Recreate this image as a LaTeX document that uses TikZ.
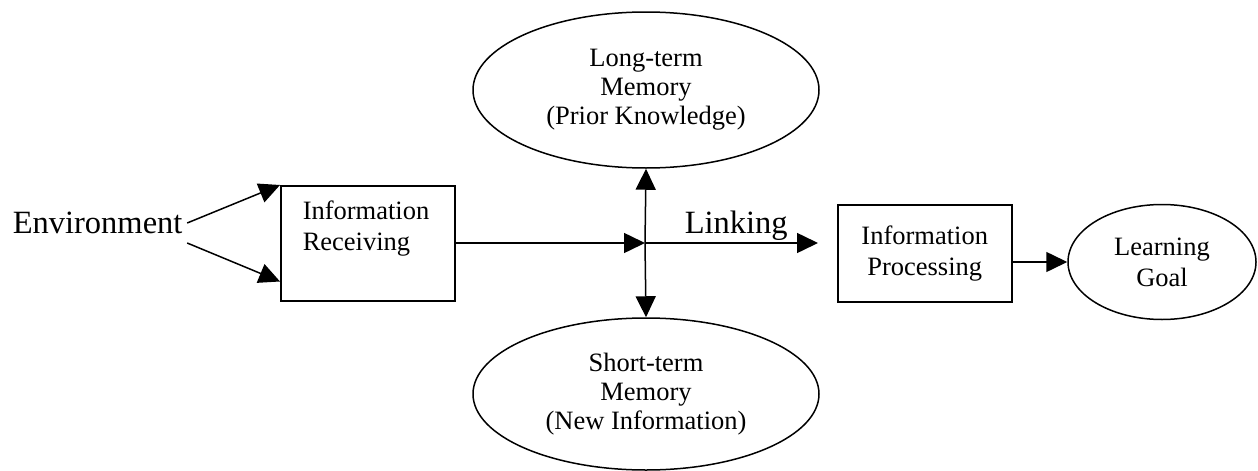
\documentclass[tikz,border=0pt]{standalone}
\usepackage{fontspec}
\setmainfont{Liberation Serif}
\usetikzlibrary{arrows.meta,shapes.geometric,calc}
\begin{document}
\begin{tikzpicture}[x=1pt,y=-1pt, line width=1.5pt,
  arr/.style={-{Triangle[length=21pt,width=20pt]}},
  box/.style={draw, rectangle, inner sep=0pt, line width=1.5pt},
  ell/.style={draw, ellipse, inner sep=0pt, align=center, line width=1.5pt, font=\fontsize{26.5}{29}\selectfont},
  big/.style={font=\fontsize{32.5}{38}\selectfont, inner sep=0pt},
  small/.style={font=\fontsize{26.5}{31}\selectfont, align=center, inner sep=0pt}]
\useasboundingbox (0,0) rectangle (1258,471);

\node[big, anchor=west] (env) at (12,223) {Environment};
\node[box, minimum width=174pt, minimum height=115pt, anchor=north west] (rec) at (280,185) {};
\node[small, align=left, anchor=north west] (rectext) at (302,200) {Information\\Receiving};

\coordinate (hub) at (645,243);
\node[ell, minimum width=346pt, minimum height=156pt] (ltm) at (646,90) {Long-term\\Memory\\(Prior Knowledge)};
\node[ell, minimum width=346pt, minimum height=152pt] (stm) at (646,394) {Short-term\\Memory\\(New Information)};
\coordinate (linkend) at (818,243);
\node[big, anchor=base west] (linktext) at (684,233) {Linking};
\node[box, small, minimum width=174pt, minimum height=97pt, anchor=north west] (proc) at (837,204) {Information\\Processing};
\node[ell, small, minimum width=188pt, minimum height=115pt] (goal) at (1162,262) {Learning\\Goal};

\draw[arr] ($(env.east)+(4,0)$) -- (rec.north west);
\draw[arr] ($(env.east)+(4,20)$) -- ($(rec.south west)+(0,-20)$);
\draw[arr] (rec.east |- hub) -- (hub);
\draw[arr] (hub) -- (ltm.south);
\draw[arr] (hub) -- (stm.north);
\draw[arr] (hub) -- (linkend);
\draw[arr] (proc.east |- goal.west) -- (goal.west);
\end{tikzpicture}
\end{document}
